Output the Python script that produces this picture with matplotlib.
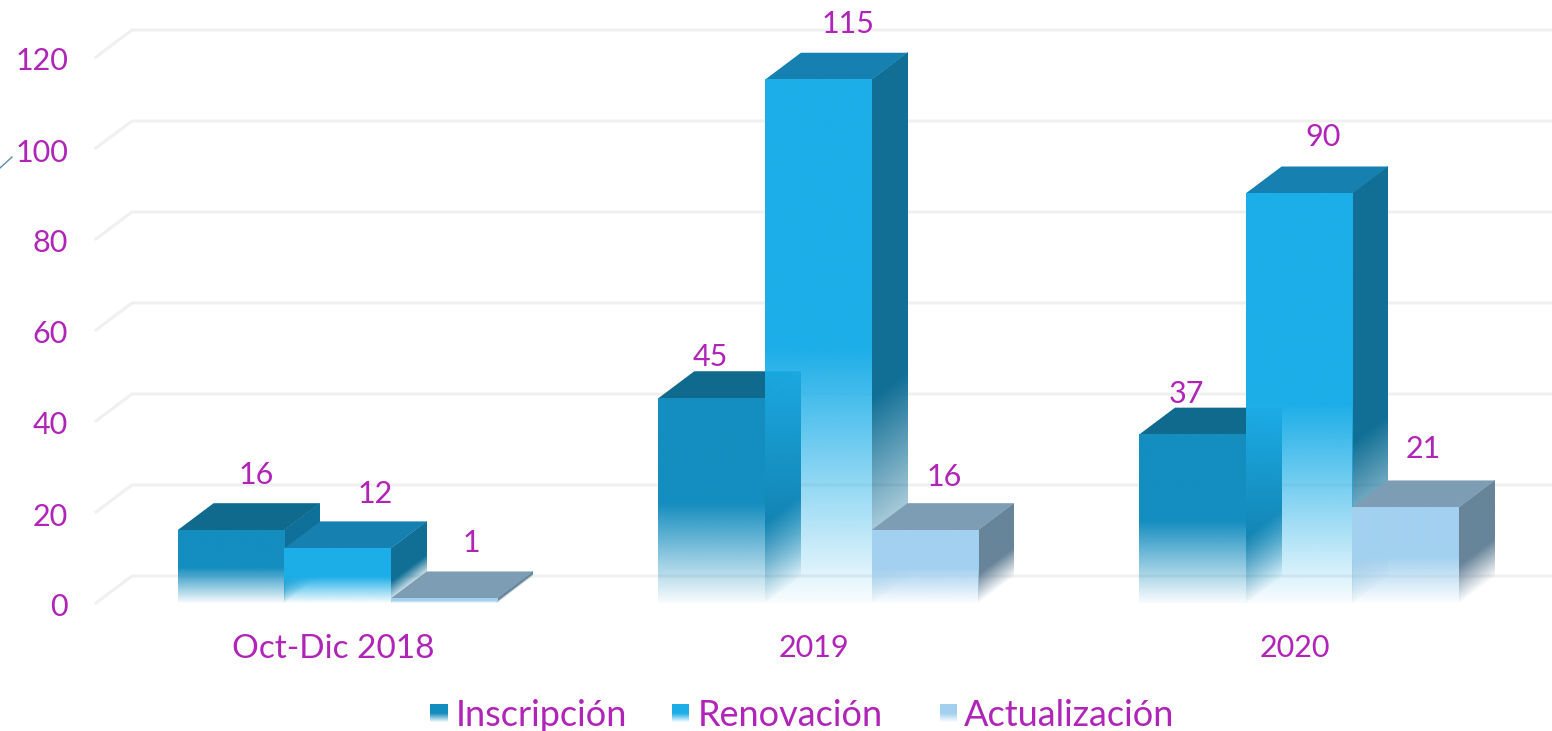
import matplotlib
matplotlib.use("Agg")
import matplotlib.pyplot as plt
import numpy as np
from matplotlib.colors import to_rgb
from matplotlib.lines import Line2D
from matplotlib.patches import Polygon
from matplotlib.transforms import Affine2D, ScaledTranslation

plt.rcParams['font.family'] = ['Lato', 'DejaVu Sans']

# data
categories = ["Oct-Dic 2018", "2019", "2020"]
series = ["Inscripción", "Renovación", "Actualización"]
inscripcion = [16, 45, 37]
renovacion = [12, 115, 90]
actualizacion = [1, 16, 21]
y_ticks = [0, 20, 40, 60, 80, 100, 120]

# style: front, side, top colours per series
front_colors = ["#148DBF", "#1CAEE8", "#A2D0EF"]
side_colors = ["#0F7099", "#116F96", "#678499"]
top_colors = ["#0F6A8E", "#1681B0", "#7C9DB3"]
text_color = "#B024B8"
grid_color = "#F0F0F0"

# pixel offsets of the data labels from the top centre of the front face
label_dx = [[25, 38, 27], [-1, 30, 19], [-6, 24, 18]]
label_dy = [[55, 54, 55], [41, 56, 53], [41, 56, 58]]

W, H = 1552, 731
px_per_cat = 480.7
px_per_val = 4.55
bar_w = 106.6 / px_per_cat
depth_x = 36 / px_per_cat
depth_y = 27 / px_per_val

fig = plt.figure(figsize=(W / 100, H / 100), dpi=100, facecolor="white")
ax = fig.add_axes([96 / W, (H - 603) / H, (W - 96) / W, 603 / H])
ax.set_autoscale_on(False)
ax.set_xlim((96 - 337.5) / px_per_cat, (W - 337.5) / px_per_cat)
ax.set_ylim(0, 603 / px_per_val)
ax.patch.set_alpha(0)
for s in ax.spines.values():
    s.set_visible(False)


def fade_image(color, solid_from=0.5):
    # solid over the upper part, fading out towards the floor
    v = np.linspace(0, 1, 256)
    alpha = np.clip(0.03 + v / solid_from, 0, 1)
    img = np.ones((256, 2, 4))
    img[:, :, :3] = to_rgb(color)
    img[:, :, 3] = alpha[:, None]
    return img


# gridlines, going back along the side wall
x0 = ax.get_xlim()[0]
x1 = ax.get_xlim()[1]
for t in y_ticks:
    ax.plot([x0, x0 + depth_x, x1], [t, t + depth_y, t + depth_y], color=grid_color,
            lw=2.2, zorder=1, clip_on=False, solid_joinstyle="miter")

z = 2
all_values = [inscripcion, renovacion, actualizacion]
for g in range(len(categories)):
    for s in range(len(series)):
        val = all_values[s][g]
        left = g + (s - 1.5) * bar_w

        # side face, skewed image
        skew = Affine2D.from_values(depth_x, depth_y, 0, val, left + bar_w, 0)
        ax.imshow(fade_image(side_colors[s], 0.4), extent=(0, 1, 0, 1), origin="lower", aspect="auto",
                  interpolation="bilinear", transform=skew + ax.transData, zorder=z)
        # top face
        ax.add_patch(Polygon([(left, val), (left + bar_w, val),
                              (left + bar_w + depth_x, val + depth_y), (left + depth_x, val + depth_y)],
                             closed=True, fc=top_colors[s], ec="none", zorder=z + 1))
        # front face
        ax.imshow(fade_image(front_colors[s]), extent=(left, left + bar_w, 0, val), origin="lower",
                  aspect="auto", interpolation="bilinear", zorder=z + 2)
        ax.annotate(str(val), (left + bar_w / 2, val), xytext=(label_dx[g][s], label_dy[g][s]),
                    textcoords="offset pixels", ha="center", va="center", fontsize=22,
                    color=text_color, annotation_clip=False, zorder=50)
        z += 3

ax.set_xticks(np.arange(len(categories)) - 4 / px_per_cat, categories)
ax.set_yticks(y_ticks)
ax.tick_params(axis="x", length=0, pad=22, labelsize=22, labelcolor=text_color)
ax.tick_params(axis="y", length=0, pad=20, labelsize=22, labelcolor=text_color)
ax.get_xticklabels()[0].set_fontsize(24)
# y labels sit slightly under their gridline
shift = ScaledTranslation(0, -2 / 100, fig.dpi_scale_trans)
for lab in ax.get_yticklabels():
    lab.set_transform(lab.get_transform() + shift)

# legend
swatch_x = [430, 672, 940]
text_x = [456, 698, 964]
for s in range(len(series)):
    sw = fig.add_axes([swatch_x[s] / W, (H - 722) / H, 17 / W, 18 / H])
    sw.imshow(fade_image(front_colors[s]), origin="lower", aspect="auto", interpolation="bilinear")
    sw.axis("off")
    fig.text(text_x[s] / W, (H - 715) / H, series[s], fontsize=26, color=text_color, ha="left", va="center")

# stray connector line at the left edge of the slide
fig.add_artist(Line2D([0 / W, 12 / W], [(H - 168) / H, (H - 157) / H], color="#5C8CA3", lw=1))

fig.savefig("out.png", dpi=100)
